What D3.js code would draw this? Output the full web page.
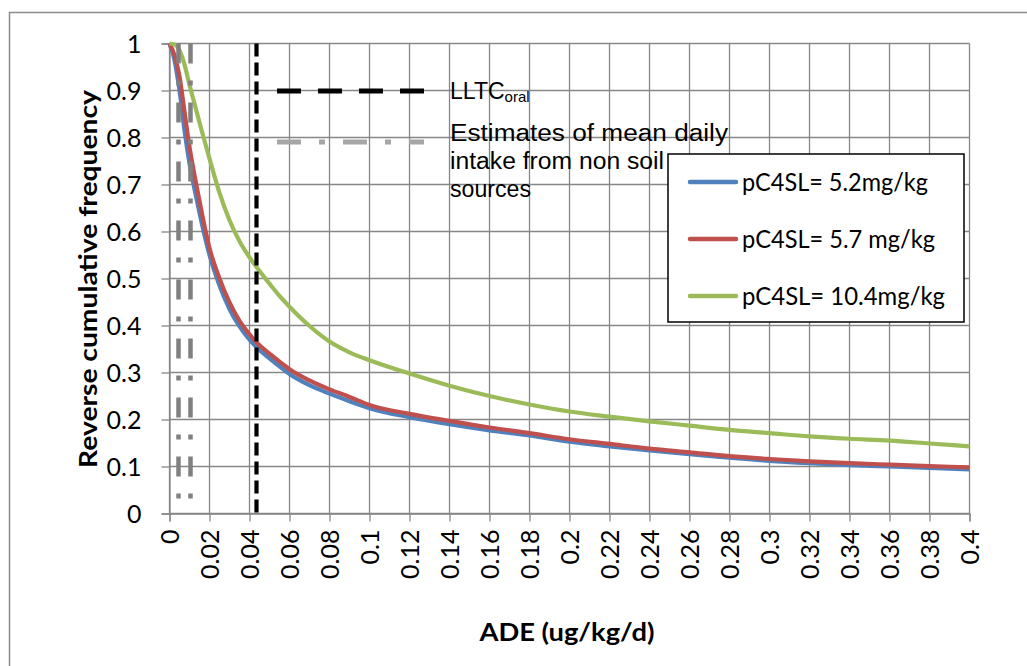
<!DOCTYPE html>
<html>
<head>
<meta charset="utf-8">
<script src="https://cdn.jsdelivr.net/npm/d3@7/dist/d3.min.js"></script>
<style>
  html, body { margin: 0; padding: 0; background: #fff; }
  svg { display: block; }
</style>
</head>
<body>
<svg id="chart" width="1027" height="666"></svg>
<script>
// ADE values (ug/kg/d) at which the reverse cumulative frequency was sampled
const ade = [0, 0.0025, 0.005, 0.0075, 0.01, 0.0125, 0.015, 0.0175, 0.02, 0.025, 0.03, 0.035,
             0.04, 0.045, 0.05, 0.055, 0.06, 0.07, 0.08, 0.09, 0.1, 0.12, 0.14, 0.16, 0.18, 0.2,
             0.22, 0.24, 0.26, 0.28, 0.3, 0.32, 0.34, 0.36, 0.38, 0.4];

// Reverse cumulative frequency for each soil concentration scenario
const freq52 = [1, 0.965, 0.9, 0.815, 0.745, 0.69, 0.64, 0.592, 0.55, 0.485, 0.435, 0.398,
                0.37, 0.348, 0.33, 0.313, 0.297, 0.273, 0.255, 0.239, 0.224, 0.205, 0.19, 0.177, 0.166, 0.153,
                0.143, 0.134, 0.126, 0.119, 0.112, 0.107, 0.103, 0.1, 0.097, 0.094];
const freq57 = [1, 0.975, 0.93, 0.855, 0.78, 0.72, 0.665, 0.612, 0.565, 0.5, 0.449, 0.41,
                0.381, 0.358, 0.34, 0.323, 0.307, 0.283, 0.264, 0.248, 0.231, 0.212, 0.197, 0.183, 0.171, 0.158,
                0.148, 0.138, 0.13, 0.122, 0.116, 0.111, 0.107, 0.104, 0.101, 0.098];
const freq104 = [1, 0.998, 0.985, 0.955, 0.912, 0.872, 0.832, 0.793, 0.755, 0.682, 0.624, 0.579,
                 0.545, 0.516, 0.489, 0.463, 0.44, 0.399, 0.366, 0.343, 0.326, 0.298, 0.272, 0.25, 0.232, 0.217,
                 0.206, 0.196, 0.187, 0.178, 0.171, 0.164, 0.159, 0.155, 0.149, 0.143];

const seriesNames = ["pC4SL= 5.2mg/kg", "pC4SL= 5.7 mg/kg", "pC4SL= 10.4mg/kg"];
const seriesColors = ["#4f81bd", "#c0504d", "#9bbb59"];

// Reference thresholds (vertical lines)
const lltcOral = 0.0435;
const nonSoilIntake = [0.0045, 0.0105];

const xTicks = d3.range(0, 21).map(i => +(i * 0.02).toFixed(2));
const yTicks = d3.range(0, 11).map(i => +(i * 0.1).toFixed(1));

const svg = d3.select("#chart");
const W = 1027, H = 666;
const plot = { left: 169.5, right: 969.5, top: 43.5, bottom: 513.5 };

const x = d3.scaleLinear().domain([0, 0.4]).range([plot.left, plot.right]);
const y = d3.scaleLinear().domain([0, 1]).range([plot.bottom, plot.top]);

const gridColor = "#878787";
const tickFont = "Lato, 'Open Sans', sans-serif";
const arial = "'Liberation Sans', Arial, sans-serif";

// chart frame
svg.append("rect")
  .attr("x", 9.5).attr("y", 12.5)
  .attr("width", W + 20).attr("height", H + 20)
  .attr("fill", "#fff").attr("stroke", "#8c8c8c").attr("stroke-width", 1.5);

// gridlines
const grid = svg.append("g");
grid.selectAll("line.v").data(xTicks).join("line")
  .attr("x1", d => x(d)).attr("x2", d => x(d))
  .attr("y1", plot.top).attr("y2", plot.bottom)
  .attr("stroke", gridColor).attr("stroke-width", 1.3);
grid.selectAll("line.h").data(yTicks).join("line")
  .attr("x1", plot.left).attr("x2", plot.right)
  .attr("y1", d => y(d)).attr("y2", d => y(d))
  .attr("stroke", gridColor).attr("stroke-width", 1.3);

// y axis
const yAxis = svg.append("g")
  .attr("transform", `translate(${plot.left},0)`)
  .call(d3.axisLeft(y).tickValues(yTicks).tickSize(8).tickPadding(20)
        .tickFormat(d => d3.format("")(d)));
yAxis.select(".domain").attr("stroke", gridColor).attr("stroke-width", 1.3);
yAxis.selectAll(".tick line").attr("stroke", gridColor).attr("stroke-width", 1.3);
yAxis.selectAll(".tick text")
  .attr("font-family", tickFont).attr("font-size", 25).attr("fill", "#000")
  .attr("dy", "0.36em");

// x axis
const xAxis = svg.append("g")
  .attr("transform", `translate(0,${plot.bottom})`)
  .call(d3.axisBottom(x).tickValues(xTicks).tickSize(8).tickFormat(d => d3.format("")(d)));
xAxis.select(".domain").attr("stroke", gridColor).attr("stroke-width", 1.3);
xAxis.selectAll(".tick line").attr("stroke", gridColor).attr("stroke-width", 1.3);
xAxis.selectAll(".tick text")
  .attr("font-family", tickFont).attr("font-size", 25).attr("fill", "#000")
  .attr("text-anchor", "end")
  .attr("transform", "rotate(-90)")
  .attr("x", -16).attr("y", 0).attr("dy", "0.36em");

// curves
const line = d3.line()
  .x((d, i) => x(ade[i]))
  .y(d => y(d))
  .curve(d3.curveMonotoneX);
const allSeries = [freq52, freq57, freq104];
svg.append("g").selectAll("path").data(allSeries).join("path")
  .attr("d", d => line(d))
  .attr("fill", "none")
  .attr("stroke", (d, i) => seriesColors[i])
  .attr("stroke-width", 4.2)
  .attr("stroke-linejoin", "round");

// non-soil intake estimates
svg.append("g").selectAll("line").data(nonSoilIntake).join("line")
  .attr("x1", d => x(d)).attr("x2", d => x(d))
  .attr("y1", y(1)).attr("y2", y(0))
  .attr("stroke", "#808080").attr("stroke-width", 4.5)
  .attr("stroke-dasharray", "20,17,5,17");

// LLTC oral
svg.append("line")
  .attr("x1", x(lltcOral)).attr("x2", x(lltcOral))
  .attr("y1", y(1)).attr("y2", y(0))
  .attr("stroke", "#000").attr("stroke-width", 4.2)
  .attr("stroke-dasharray", "13,6");

// reference-line key
const key = svg.append("g");
key.append("line").attr("x1", 277).attr("x2", 424).attr("y1", 91).attr("y2", 91)
  .attr("stroke", "#000").attr("stroke-width", 5).attr("stroke-dasharray", "24,17");
key.append("line").attr("x1", 277).attr("x2", 424).attr("y1", 142).attr("y2", 142)
  .attr("stroke", "#a6a6a6").attr("stroke-width", 5).attr("stroke-dasharray", "24,18,6,18");
const lltcText = key.append("text")
  .attr("x", 450).attr("y", 99)
  .attr("font-family", arial).attr("font-size", 23).attr("fill", "#000");
lltcText.append("tspan").text("LLTC");
lltcText.append("tspan").attr("font-size", 15).attr("dy", 3).text("oral");

const estLines = ["Estimates of mean daily", "intake from non soil", "sources"];
const estWidths = [278, 214, 81];
key.selectAll("text.est").data(estLines).join("text")
  .attr("class", "est")
  .attr("x", 450).attr("y", (d, i) => 141 + i * 28)
  .attr("font-family", arial).attr("font-size", 23).attr("fill", "#000")
  .attr("textLength", (d, i) => estWidths[i])
  .attr("lengthAdjust", "spacingAndGlyphs")
  .text(d => d);

// series legend
const leg = svg.append("g");
leg.append("rect").attr("x", 668).attr("y", 154).attr("width", 296).attr("height", 168)
  .attr("fill", "#fff").attr("stroke", "#000").attr("stroke-width", 1.5);
const legY = [182, 239, 296];
const legW = [186, 193, 203];
seriesNames.forEach((name, i) => {
  leg.append("line").attr("x1", 690).attr("x2", 736).attr("y1", legY[i]).attr("y2", legY[i])
    .attr("stroke", seriesColors[i]).attr("stroke-width", 4.5).attr("stroke-linecap", "round");
  leg.append("text").attr("x", 742).attr("y", legY[i]).attr("dy", "0.35em")
    .attr("font-family", tickFont).attr("font-size", 25).attr("fill", "#000")
    .attr("textLength", legW[i])
    .attr("lengthAdjust", "spacingAndGlyphs")
    .text(name);
});

// axis titles
svg.append("text")
  .attr("transform", `translate(88,${279}) rotate(-90)`)
  .attr("text-anchor", "middle").attr("dy", "0.35em")
  .attr("font-family", tickFont).attr("font-weight", "bold").attr("font-size", 25)
  .attr("textLength", 378)
  .attr("lengthAdjust", "spacingAndGlyphs")
  .text("Reverse cumulative frequency");
svg.append("text")
  .attr("x", 567).attr("y", 632).attr("dy", "0.35em")
  .attr("text-anchor", "middle")
  .attr("font-family", tickFont).attr("font-weight", "bold").attr("font-size", 25)
  .attr("textLength", 175)
  .attr("lengthAdjust", "spacingAndGlyphs")
  .text("ADE (ug/kg/d)");
</script>
</body>
</html>
